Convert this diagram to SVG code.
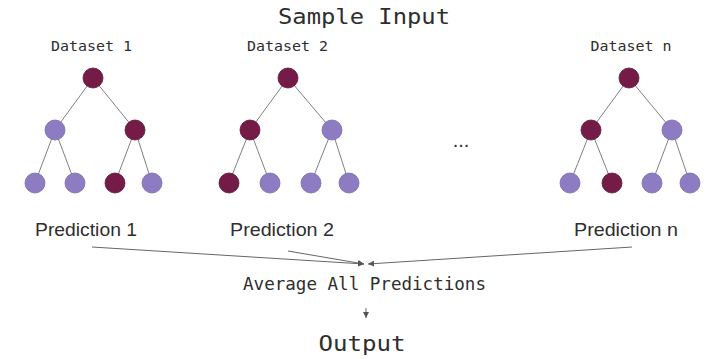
<svg xmlns="http://www.w3.org/2000/svg" width="710" height="359" viewBox="0 0 710 359">
  <style>
    .mono { font-family: "DejaVu Sans Mono", "Liberation Mono", monospace; fill: #2e2e2e; }
    .sans { font-family: "Liberation Sans", Arial, sans-serif; fill: #2e2e2e; }
    .edge { stroke: #808080; stroke-width: 1; }
    .dark { fill: #741b47; stroke: #5e1439; stroke-width: 0.8; }
    .light { fill: #8e7cc3; stroke: #7a68b0; stroke-width: 0.8; }
    .conn { stroke: #666; stroke-width: 1; fill: none; }
  </style>
  <defs>
    <marker id="arrow" viewBox="0 0 10 10" refX="10" refY="5" markerWidth="6" markerHeight="6" orient="auto" markerUnits="userSpaceOnUse">
      <path d="M0,0 L10,5 L0,10 Z" fill="#555"/>
    </marker>
  </defs>

  <rect width="710" height="359" fill="#fff"/>

  <text class="mono" x="364" y="24" font-size="22" text-anchor="middle" textLength="172" lengthAdjust="spacingAndGlyphs">Sample Input</text>

  <!-- Tree 1 -->
  <g id="tree1">
    <text class="mono" x="91.5" y="51" font-size="14" text-anchor="middle" textLength="81" lengthAdjust="spacingAndGlyphs">Dataset 1</text>
    <path class="edge" d="M93,78 L55,130 M93,78 L135,130 M55,130 L35,183 M55,130 L75,183 M135,130 L115,183 M135,130 L152,183"/>
    <circle class="dark" cx="93" cy="78" r="10"/>
    <circle class="light" cx="55" cy="130" r="10"/>
    <circle class="dark" cx="135" cy="130" r="10"/>
    <circle class="light" cx="35" cy="183" r="10"/>
    <circle class="light" cx="75" cy="183" r="10"/>
    <circle class="dark" cx="115" cy="183" r="10"/>
    <circle class="light" cx="152" cy="183" r="10"/>
  </g>

  <!-- Tree 2 -->
  <g id="tree2">
    <text class="mono" x="287.5" y="51" font-size="14" text-anchor="middle" textLength="81" lengthAdjust="spacingAndGlyphs">Dataset 2</text>
    <path class="edge" d="M288,78 L250,130 M288,78 L332,130 M250,130 L229,183 M250,130 L270,183 M332,130 L311,183 M332,130 L349,183"/>
    <circle class="dark" cx="288" cy="78" r="10"/>
    <circle class="dark" cx="250" cy="130" r="10"/>
    <circle class="light" cx="332" cy="130" r="10"/>
    <circle class="dark" cx="229" cy="183" r="10"/>
    <circle class="light" cx="270" cy="183" r="10"/>
    <circle class="light" cx="311" cy="183" r="10"/>
    <circle class="light" cx="349" cy="183" r="10"/>
  </g>

  <text id="ellipsis" class="sans" x="461" y="147" font-size="20" text-anchor="middle">...</text>

  <!-- Tree n -->
  <g id="treen">
    <text class="mono" x="631" y="51" font-size="14" text-anchor="middle" textLength="81" lengthAdjust="spacingAndGlyphs">Dataset n</text>
    <path class="edge" d="M629,78 L591,130 M629,78 L672,130 M591,130 L570,183 M591,130 L612,183 M672,130 L652,183 M672,130 L690,183"/>
    <circle class="dark" cx="629" cy="78" r="10"/>
    <circle class="dark" cx="591" cy="130" r="10"/>
    <circle class="light" cx="672" cy="130" r="10"/>
    <circle class="light" cx="570" cy="183" r="10"/>
    <circle class="dark" cx="612" cy="183" r="10"/>
    <circle class="light" cx="652" cy="183" r="10"/>
    <circle class="light" cx="690" cy="183" r="10"/>
  </g>

  <g id="pred1"><text class="sans" x="35" y="236" font-size="18.5" textLength="102" lengthAdjust="spacingAndGlyphs">Prediction 1</text></g>
  <g id="pred2"><text class="sans" x="230" y="236" font-size="18.5" textLength="104" lengthAdjust="spacingAndGlyphs">Prediction 2</text></g>
  <g id="predn"><text class="sans" x="574" y="236" font-size="18.5" textLength="104" lengthAdjust="spacingAndGlyphs">Prediction n</text></g>

  <g id="average"><text class="mono" x="364.5" y="290" font-size="17" text-anchor="middle" textLength="243" lengthAdjust="spacingAndGlyphs">Average All Predictions</text></g>
  <g id="output"><text class="mono" x="362" y="351" font-size="22" text-anchor="middle" textLength="87" lengthAdjust="spacingAndGlyphs">Output</text></g>

  <g id="connectors">
    <line class="conn" x1="92" y1="247" x2="364" y2="264" marker-end="url(#arrow)"/>
    <line class="conn" x1="288" y1="251" x2="364" y2="264" marker-end="url(#arrow)"/>
    <line class="conn" x1="632" y1="247" x2="368" y2="264" marker-end="url(#arrow)"/>
    <line class="conn" x1="366" y1="308" x2="366" y2="318" marker-end="url(#arrow)"/>
  </g>
</svg>
